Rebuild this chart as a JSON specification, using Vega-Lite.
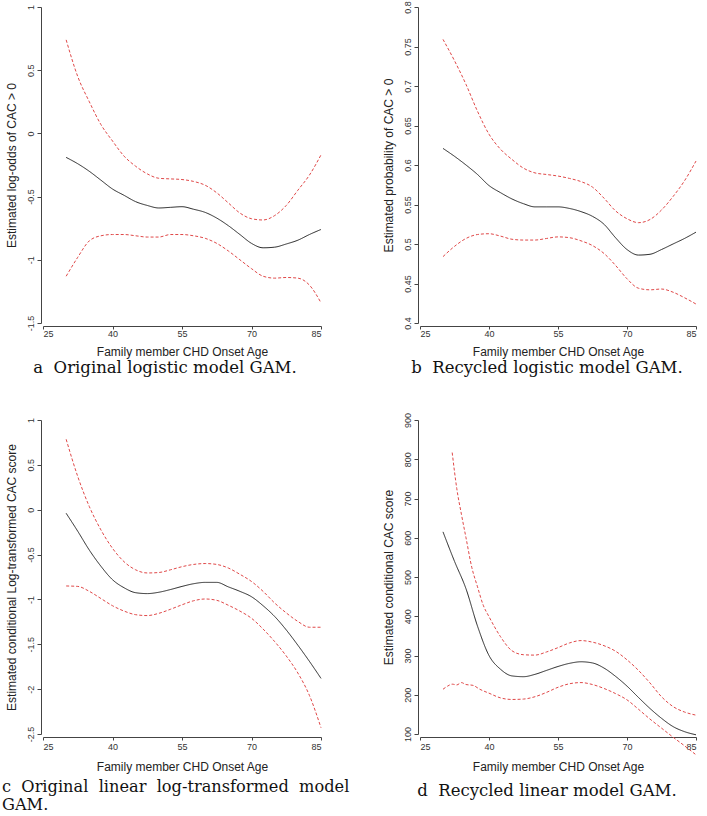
{
  "$schema": "https://vega.github.io/schema/vega-lite/v6.json",
  "padding": {"left": 2, "top": 0, "right": 0, "bottom": 0},
  "columns": 2,
  "spacing": {"row": 35, "column": 32},
  "config": {
    "view": {"stroke": null},
    "axis": {"domainColor": "#444", "tickColor": "#444", "labelColor": "#333", "titleColor": "#222", "labelFont": "Liberation Sans", "titleFont": "Liberation Sans", "labelFontSize": 9, "titleFontSize": 12, "titleFontWeight": "normal", "grid": false, "tickSize": 4, "domainWidth": 1, "tickWidth": 1},
    "axisY": {"labelAngle": 270, "labelAlign": "center", "labelBaseline": "bottom", "offset": 2, "labelPadding": 2, "titlePadding": 8, "format": "~r", "labelExpr": "replace(datum.label, '\u2212', '-')"},
    "axisX": {"offset": 3, "tickSize": 3, "labelPadding": 0, "titlePadding": 8},
    "title": {"orient": "bottom", "font": "DejaVu Serif", "fontSize": 16.5, "fontWeight": "normal", "color": "#111", "frame": "group", "offset": 3, "lineHeight": 18},
    "line": {"interpolate": "monotone"}
  },
  "concat": [
    {
      "width": 278, "height": 316,
      "title": {"text": "a\u00a0 Original logistic model GAM.", "dx": -17, "frame": "group"},
      "data": {"values": [
        {"age": 30, "value": -0.19, "series": "fit"}, {"age": 32.5, "value": -0.24, "series": "fit"}, {"age": 35, "value": -0.3, "series": "fit"}, {"age": 37.5, "value": -0.37, "series": "fit"}, {"age": 40, "value": -0.44, "series": "fit"}, {"age": 42.5, "value": -0.49, "series": "fit"}, {"age": 45, "value": -0.54, "series": "fit"}, {"age": 47.5, "value": -0.57, "series": "fit"}, {"age": 50, "value": -0.59, "series": "fit"}, {"age": 52.5, "value": -0.585, "series": "fit"}, {"age": 55, "value": -0.58, "series": "fit"}, {"age": 57.5, "value": -0.6, "series": "fit"}, {"age": 60, "value": -0.625, "series": "fit"}, {"age": 62.5, "value": -0.67, "series": "fit"}, {"age": 65, "value": -0.73, "series": "fit"}, {"age": 67.5, "value": -0.8, "series": "fit"}, {"age": 70, "value": -0.87, "series": "fit"}, {"age": 72.5, "value": -0.905, "series": "fit"}, {"age": 75, "value": -0.9, "series": "fit"}, {"age": 77.5, "value": -0.875, "series": "fit"}, {"age": 80, "value": -0.845, "series": "fit"}, {"age": 82.5, "value": -0.8, "series": "fit"}, {"age": 85, "value": -0.76, "series": "fit"},
        {"age": 30, "value": 0.74, "series": "upper"}, {"age": 32.5, "value": 0.45, "series": "upper"}, {"age": 35, "value": 0.25, "series": "upper"}, {"age": 37.5, "value": 0.07, "series": "upper"}, {"age": 40, "value": -0.06, "series": "upper"}, {"age": 42.5, "value": -0.18, "series": "upper"}, {"age": 45, "value": -0.26, "series": "upper"}, {"age": 47.5, "value": -0.32, "series": "upper"}, {"age": 50, "value": -0.355, "series": "upper"}, {"age": 52.5, "value": -0.36, "series": "upper"}, {"age": 55, "value": -0.365, "series": "upper"}, {"age": 57.5, "value": -0.38, "series": "upper"}, {"age": 60, "value": -0.41, "series": "upper"}, {"age": 62.5, "value": -0.47, "series": "upper"}, {"age": 65, "value": -0.55, "series": "upper"}, {"age": 67.5, "value": -0.63, "series": "upper"}, {"age": 70, "value": -0.675, "series": "upper"}, {"age": 72.5, "value": -0.685, "series": "upper"}, {"age": 75, "value": -0.65, "series": "upper"}, {"age": 77.5, "value": -0.57, "series": "upper"}, {"age": 80, "value": -0.45, "series": "upper"}, {"age": 82.5, "value": -0.33, "series": "upper"}, {"age": 85, "value": -0.17, "series": "upper"},
        {"age": 30, "value": -1.13, "series": "lower"}, {"age": 32.5, "value": -0.98, "series": "lower"}, {"age": 35, "value": -0.85, "series": "lower"}, {"age": 37.5, "value": -0.81, "series": "lower"}, {"age": 40, "value": -0.8, "series": "lower"}, {"age": 42.5, "value": -0.8, "series": "lower"}, {"age": 45, "value": -0.81, "series": "lower"}, {"age": 47.5, "value": -0.82, "series": "lower"}, {"age": 50, "value": -0.82, "series": "lower"}, {"age": 52.5, "value": -0.8, "series": "lower"}, {"age": 55, "value": -0.8, "series": "lower"}, {"age": 57.5, "value": -0.81, "series": "lower"}, {"age": 60, "value": -0.83, "series": "lower"}, {"age": 62.5, "value": -0.87, "series": "lower"}, {"age": 65, "value": -0.93, "series": "lower"}, {"age": 67.5, "value": -1.0, "series": "lower"}, {"age": 70, "value": -1.07, "series": "lower"}, {"age": 72.5, "value": -1.13, "series": "lower"}, {"age": 75, "value": -1.145, "series": "lower"}, {"age": 77.5, "value": -1.14, "series": "lower"}, {"age": 80, "value": -1.145, "series": "lower"}, {"age": 82.5, "value": -1.2, "series": "lower"}, {"age": 85, "value": -1.34, "series": "lower"}
      ]},
      "mark": {"type": "line", "clip": false},
      "encoding": {
        "x": {"field": "age", "type": "quantitative", "scale": {"domain": [25, 85], "nice": false, "zero": false}, "axis": {"values": [25, 40, 55, 70, 85], "title": "Family member CHD Onset Age"}},
        "y": {"field": "value", "type": "quantitative", "scale": {"domain": [-1.5, 1], "nice": false, "zero": false}, "axis": {"values": [-1.5, -1, -0.5, 0, 0.5, 1], "title": "Estimated log-odds of CAC > 0"}},
        "color": {"field": "series", "type": "nominal", "scale": {"domain": ["fit", "upper", "lower"], "range": ["#262626", "#e04848", "#e04848"]}, "legend": null},
        "strokeDash": {"field": "series", "type": "nominal", "scale": {"domain": ["fit", "upper", "lower"], "range": [[1, 0], [3, 2], [3, 2]]}, "legend": null},
        "strokeWidth": {"value": 1}
      }
    },
    {
      "width": 276, "height": 316,
      "title": {"text": "b\u00a0 Recycled logistic model GAM.", "dx": -11, "frame": "group"},
      "data": {"values": [
        {"age": 30, "value": 0.621, "series": "fit"}, {"age": 32.5, "value": 0.611, "series": "fit"}, {"age": 35, "value": 0.6, "series": "fit"}, {"age": 37.5, "value": 0.588, "series": "fit"}, {"age": 40, "value": 0.574, "series": "fit"}, {"age": 42.5, "value": 0.565, "series": "fit"}, {"age": 45, "value": 0.557, "series": "fit"}, {"age": 47.5, "value": 0.551, "series": "fit"}, {"age": 50, "value": 0.547, "series": "fit"}, {"age": 52.5, "value": 0.547, "series": "fit"}, {"age": 55, "value": 0.547, "series": "fit"}, {"age": 57.5, "value": 0.545, "series": "fit"}, {"age": 60, "value": 0.541, "series": "fit"}, {"age": 62.5, "value": 0.535, "series": "fit"}, {"age": 65, "value": 0.525, "series": "fit"}, {"age": 67.5, "value": 0.508, "series": "fit"}, {"age": 70, "value": 0.493, "series": "fit"}, {"age": 72.5, "value": 0.486, "series": "fit"}, {"age": 75, "value": 0.487, "series": "fit"}, {"age": 77.5, "value": 0.493, "series": "fit"}, {"age": 80, "value": 0.5, "series": "fit"}, {"age": 82.5, "value": 0.507, "series": "fit"}, {"age": 85, "value": 0.515, "series": "fit"},
        {"age": 30, "value": 0.759, "series": "upper"}, {"age": 32.5, "value": 0.732, "series": "upper"}, {"age": 35, "value": 0.702, "series": "upper"}, {"age": 37.5, "value": 0.668, "series": "upper"}, {"age": 40, "value": 0.639, "series": "upper"}, {"age": 42.5, "value": 0.62, "series": "upper"}, {"age": 45, "value": 0.607, "series": "upper"}, {"age": 47.5, "value": 0.596, "series": "upper"}, {"age": 50, "value": 0.59, "series": "upper"}, {"age": 52.5, "value": 0.588, "series": "upper"}, {"age": 55, "value": 0.586, "series": "upper"}, {"age": 57.5, "value": 0.583, "series": "upper"}, {"age": 60, "value": 0.579, "series": "upper"}, {"age": 62.5, "value": 0.572, "series": "upper"}, {"age": 65, "value": 0.558, "series": "upper"}, {"age": 67.5, "value": 0.542, "series": "upper"}, {"age": 70, "value": 0.532, "series": "upper"}, {"age": 72.5, "value": 0.527, "series": "upper"}, {"age": 75, "value": 0.531, "series": "upper"}, {"age": 77.5, "value": 0.543, "series": "upper"}, {"age": 80, "value": 0.56, "series": "upper"}, {"age": 82.5, "value": 0.58, "series": "upper"}, {"age": 85, "value": 0.605, "series": "upper"},
        {"age": 30, "value": 0.484, "series": "lower"}, {"age": 32.5, "value": 0.497, "series": "lower"}, {"age": 35, "value": 0.507, "series": "lower"}, {"age": 37.5, "value": 0.512, "series": "lower"}, {"age": 40, "value": 0.513, "series": "lower"}, {"age": 42.5, "value": 0.51, "series": "lower"}, {"age": 45, "value": 0.506, "series": "lower"}, {"age": 47.5, "value": 0.505, "series": "lower"}, {"age": 50, "value": 0.505, "series": "lower"}, {"age": 52.5, "value": 0.507, "series": "lower"}, {"age": 55, "value": 0.509, "series": "lower"}, {"age": 57.5, "value": 0.508, "series": "lower"}, {"age": 60, "value": 0.504, "series": "lower"}, {"age": 62.5, "value": 0.498, "series": "lower"}, {"age": 65, "value": 0.488, "series": "lower"}, {"age": 67.5, "value": 0.473, "series": "lower"}, {"age": 70, "value": 0.456, "series": "lower"}, {"age": 72.5, "value": 0.444, "series": "lower"}, {"age": 75, "value": 0.442, "series": "lower"}, {"age": 77.5, "value": 0.443, "series": "lower"}, {"age": 80, "value": 0.439, "series": "lower"}, {"age": 82.5, "value": 0.432, "series": "lower"}, {"age": 85, "value": 0.424, "series": "lower"}
      ]},
      "mark": {"type": "line", "clip": false},
      "encoding": {
        "x": {"field": "age", "type": "quantitative", "scale": {"domain": [25, 85], "nice": false, "zero": false}, "axis": {"values": [25, 40, 55, 70, 85], "title": "Family member CHD Onset Age"}},
        "y": {"field": "value", "type": "quantitative", "scale": {"domain": [0.4, 0.8], "nice": false, "zero": false}, "axis": {"values": [0.4, 0.45, 0.5, 0.55, 0.6, 0.65, 0.7, 0.75, 0.8], "title": "Estimated probability of CAC > 0"}},
        "color": {"field": "series", "type": "nominal", "scale": {"domain": ["fit", "upper", "lower"], "range": ["#262626", "#e04848", "#e04848"]}, "legend": null},
        "strokeDash": {"field": "series", "type": "nominal", "scale": {"domain": ["fit", "upper", "lower"], "range": [[1, 0], [3, 2], [3, 2]]}, "legend": null},
        "strokeWidth": {"value": 1}
      }
    },
    {
      "width": 278, "height": 314,
      "title": {"text": ["c\u00a0 Original\u00a0\u00a0linear\u00a0\u00a0log-transformed\u00a0\u00a0model", "GAM."], "anchor": "start", "dx": -41, "frame": "group", "offset": 7, "fontSize": 16.2},
      "data": {"values": [
        {"age": 30, "value": -0.04, "series": "fit"}, {"age": 32.5, "value": -0.24, "series": "fit"}, {"age": 35, "value": -0.45, "series": "fit"}, {"age": 37.5, "value": -0.63, "series": "fit"}, {"age": 40, "value": -0.78, "series": "fit"}, {"age": 42.5, "value": -0.87, "series": "fit"}, {"age": 45, "value": -0.925, "series": "fit"}, {"age": 47.5, "value": -0.935, "series": "fit"}, {"age": 50, "value": -0.92, "series": "fit"}, {"age": 52.5, "value": -0.89, "series": "fit"}, {"age": 55, "value": -0.855, "series": "fit"}, {"age": 57.5, "value": -0.825, "series": "fit"}, {"age": 60, "value": -0.81, "series": "fit"}, {"age": 62.5, "value": -0.81, "series": "fit"}, {"age": 65, "value": -0.86, "series": "fit"}, {"age": 67.5, "value": -0.91, "series": "fit"}, {"age": 70, "value": -0.97, "series": "fit"}, {"age": 72.5, "value": -1.07, "series": "fit"}, {"age": 75, "value": -1.19, "series": "fit"}, {"age": 77.5, "value": -1.34, "series": "fit"}, {"age": 80, "value": -1.51, "series": "fit"}, {"age": 82.5, "value": -1.69, "series": "fit"}, {"age": 85, "value": -1.88, "series": "fit"},
        {"age": 30, "value": 0.785, "series": "upper"}, {"age": 32.5, "value": 0.37, "series": "upper"}, {"age": 35, "value": 0.035, "series": "upper"}, {"age": 37.5, "value": -0.225, "series": "upper"}, {"age": 40, "value": -0.43, "series": "upper"}, {"age": 42.5, "value": -0.58, "series": "upper"}, {"age": 45, "value": -0.67, "series": "upper"}, {"age": 47.5, "value": -0.705, "series": "upper"}, {"age": 50, "value": -0.7, "series": "upper"}, {"age": 52.5, "value": -0.67, "series": "upper"}, {"age": 55, "value": -0.635, "series": "upper"}, {"age": 57.5, "value": -0.61, "series": "upper"}, {"age": 60, "value": -0.6, "series": "upper"}, {"age": 62.5, "value": -0.61, "series": "upper"}, {"age": 65, "value": -0.65, "series": "upper"}, {"age": 67.5, "value": -0.72, "series": "upper"}, {"age": 70, "value": -0.8, "series": "upper"}, {"age": 72.5, "value": -0.91, "series": "upper"}, {"age": 75, "value": -1.04, "series": "upper"}, {"age": 77.5, "value": -1.15, "series": "upper"}, {"age": 80, "value": -1.245, "series": "upper"}, {"age": 82.5, "value": -1.31, "series": "upper"}, {"age": 85, "value": -1.31, "series": "upper"},
        {"age": 30, "value": -0.85, "series": "lower"}, {"age": 32.5, "value": -0.855, "series": "lower"}, {"age": 35, "value": -0.91, "series": "lower"}, {"age": 37.5, "value": -0.99, "series": "lower"}, {"age": 40, "value": -1.07, "series": "lower"}, {"age": 42.5, "value": -1.13, "series": "lower"}, {"age": 45, "value": -1.17, "series": "lower"}, {"age": 47.5, "value": -1.18, "series": "lower"}, {"age": 50, "value": -1.155, "series": "lower"}, {"age": 52.5, "value": -1.11, "series": "lower"}, {"age": 55, "value": -1.06, "series": "lower"}, {"age": 57.5, "value": -1.015, "series": "lower"}, {"age": 60, "value": -0.995, "series": "lower"}, {"age": 62.5, "value": -1.01, "series": "lower"}, {"age": 65, "value": -1.065, "series": "lower"}, {"age": 67.5, "value": -1.13, "series": "lower"}, {"age": 70, "value": -1.21, "series": "lower"}, {"age": 72.5, "value": -1.33, "series": "lower"}, {"age": 75, "value": -1.47, "series": "lower"}, {"age": 77.5, "value": -1.63, "series": "lower"}, {"age": 80, "value": -1.82, "series": "lower"}, {"age": 82.5, "value": -2.07, "series": "lower"}, {"age": 85, "value": -2.43, "series": "lower"}
      ]},
      "mark": {"type": "line", "clip": false},
      "encoding": {
        "x": {"field": "age", "type": "quantitative", "scale": {"domain": [25, 85], "nice": false, "zero": false}, "axis": {"values": [25, 40, 55, 70, 85], "title": "Family member CHD Onset Age", "labelPadding": 2, "titlePadding": 10}},
        "y": {"field": "value", "type": "quantitative", "scale": {"domain": [-2.5, 1], "nice": false, "zero": false}, "axis": {"values": [-2.5, -2, -1.5, -1, -0.5, 0, 0.5, 1], "title": "Estimated conditional Log-transformed CAC score"}},
        "color": {"field": "series", "type": "nominal", "scale": {"domain": ["fit", "upper", "lower"], "range": ["#262626", "#e04848", "#e04848"]}, "legend": null},
        "strokeDash": {"field": "series", "type": "nominal", "scale": {"domain": ["fit", "upper", "lower"], "range": [[1, 0], [3, 2], [3, 2]]}, "legend": null},
        "strokeWidth": {"value": 1}
      }
    },
    {
      "width": 276, "height": 314,
      "title": {"text": "d\u00a0 Recycled linear model GAM.", "dx": -11, "frame": "group", "offset": 11},
      "data": {"values": [
        {"age": 30, "value": 615, "series": "fit"}, {"age": 32.5, "value": 540, "series": "fit"}, {"age": 35, "value": 470, "series": "fit"}, {"age": 37.5, "value": 375, "series": "fit"}, {"age": 40, "value": 300, "series": "fit"}, {"age": 42.5, "value": 265, "series": "fit"}, {"age": 45, "value": 248, "series": "fit"}, {"age": 47.5, "value": 246, "series": "fit"}, {"age": 50, "value": 252, "series": "fit"}, {"age": 52.5, "value": 262, "series": "fit"}, {"age": 55, "value": 272, "series": "fit"}, {"age": 57.5, "value": 280, "series": "fit"}, {"age": 60, "value": 284, "series": "fit"}, {"age": 62.5, "value": 281, "series": "fit"}, {"age": 65, "value": 268, "series": "fit"}, {"age": 67.5, "value": 247, "series": "fit"}, {"age": 70, "value": 222, "series": "fit"}, {"age": 72.5, "value": 193, "series": "fit"}, {"age": 75, "value": 165, "series": "fit"}, {"age": 77.5, "value": 140, "series": "fit"}, {"age": 80, "value": 119, "series": "fit"}, {"age": 82.5, "value": 106, "series": "fit"}, {"age": 85, "value": 98, "series": "fit"},
        {"age": 32, "value": 817, "series": "upper"}, {"age": 33, "value": 725, "series": "upper"}, {"age": 34, "value": 660, "series": "upper"}, {"age": 35, "value": 600, "series": "upper"}, {"age": 36.25, "value": 525, "series": "upper"}, {"age": 37.5, "value": 475, "series": "upper"}, {"age": 38.75, "value": 428, "series": "upper"}, {"age": 40, "value": 399, "series": "upper"}, {"age": 42.5, "value": 348, "series": "upper"}, {"age": 45, "value": 312, "series": "upper"}, {"age": 47.5, "value": 302, "series": "upper"}, {"age": 50, "value": 301, "series": "upper"}, {"age": 52.5, "value": 309, "series": "upper"}, {"age": 55, "value": 320, "series": "upper"}, {"age": 57.5, "value": 332, "series": "upper"}, {"age": 60, "value": 338, "series": "upper"}, {"age": 62.5, "value": 334, "series": "upper"}, {"age": 65, "value": 325, "series": "upper"}, {"age": 67.5, "value": 311, "series": "upper"}, {"age": 70, "value": 289, "series": "upper"}, {"age": 72.5, "value": 262, "series": "upper"}, {"age": 75, "value": 230, "series": "upper"}, {"age": 77.5, "value": 195, "series": "upper"}, {"age": 80, "value": 170, "series": "upper"}, {"age": 82.5, "value": 156, "series": "upper"}, {"age": 85, "value": 148, "series": "upper"},
        {"age": 30, "value": 214, "series": "lower"}, {"age": 31, "value": 222, "series": "lower"}, {"age": 32, "value": 227, "series": "lower"}, {"age": 33, "value": 225, "series": "lower"}, {"age": 34, "value": 231, "series": "lower"}, {"age": 35, "value": 226, "series": "lower"}, {"age": 36.5, "value": 224, "series": "lower"}, {"age": 38, "value": 214, "series": "lower"}, {"age": 40, "value": 204, "series": "lower"}, {"age": 42.5, "value": 192, "series": "lower"}, {"age": 45, "value": 188, "series": "lower"}, {"age": 47.5, "value": 189, "series": "lower"}, {"age": 50, "value": 195, "series": "lower"}, {"age": 52.5, "value": 206, "series": "lower"}, {"age": 55, "value": 219, "series": "lower"}, {"age": 57.5, "value": 228, "series": "lower"}, {"age": 60, "value": 231, "series": "lower"}, {"age": 62.5, "value": 226, "series": "lower"}, {"age": 65, "value": 216, "series": "lower"}, {"age": 67.5, "value": 203, "series": "lower"}, {"age": 70, "value": 187, "series": "lower"}, {"age": 72.5, "value": 163, "series": "lower"}, {"age": 75, "value": 138, "series": "lower"}, {"age": 77.5, "value": 115, "series": "lower"}, {"age": 80, "value": 92, "series": "lower"}, {"age": 82.5, "value": 70, "series": "lower"}, {"age": 85, "value": 47, "series": "lower"}
      ]},
      "mark": {"type": "line", "clip": false},
      "encoding": {
        "x": {"field": "age", "type": "quantitative", "scale": {"domain": [25, 85], "nice": false, "zero": false}, "axis": {"values": [25, 40, 55, 70, 85], "title": "Family member CHD Onset Age", "labelPadding": 2, "titlePadding": 10}},
        "y": {"field": "value", "type": "quantitative", "scale": {"domain": [100, 900], "nice": false, "zero": false}, "axis": {"values": [100, 200, 300, 400, 500, 600, 700, 800, 900], "title": "Estimated conditional CAC score"}},
        "color": {"field": "series", "type": "nominal", "scale": {"domain": ["fit", "upper", "lower"], "range": ["#262626", "#e04848", "#e04848"]}, "legend": null},
        "strokeDash": {"field": "series", "type": "nominal", "scale": {"domain": ["fit", "upper", "lower"], "range": [[1, 0], [3, 2], [3, 2]]}, "legend": null},
        "strokeWidth": {"value": 1}
      }
    }
  ]
}
